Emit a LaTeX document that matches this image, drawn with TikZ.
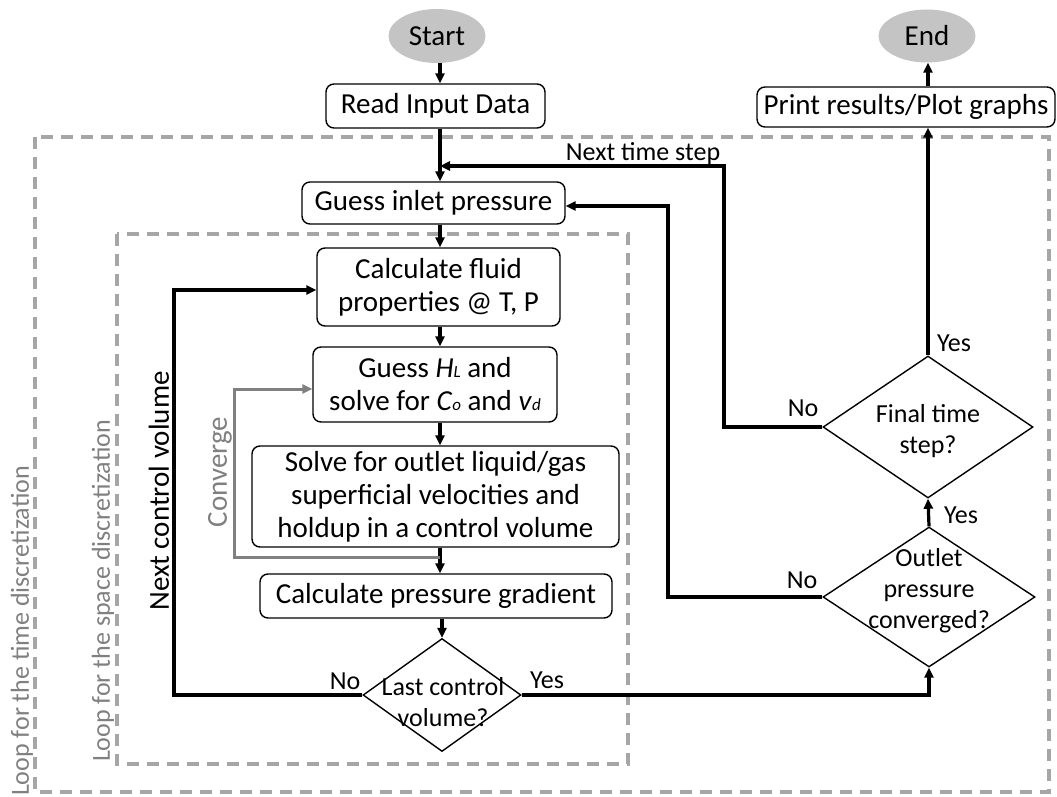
\documentclass[tikz,border=0pt]{standalone}
\usepackage{fontspec}
\setmainfont{Carlito}
\usetikzlibrary{arrows.meta,shapes.geometric}
\definecolor{termgray}{RGB}{196,196,196}
\definecolor{dashgray}{RGB}{166,166,166}
\definecolor{txtgray}{RGB}{128,128,128}
\begin{document}
\begin{tikzpicture}[x=1pt,y=-1pt,
  box/.style={draw=black,line width=1.4pt,rounded corners=8pt,inner sep=0pt,align=center,font=\fontsize{29}{33}\selectfont},
  term/.style={ellipse,fill=termgray,draw=none,inner sep=0pt,font=\fontsize{29}{33}\selectfont},
  dec/.style={diamond,draw=black,line width=1.4pt,inner sep=0pt},
  dectext/.style={align=center,inner sep=0pt,font=\fontsize{26}{31}\selectfont},
  conn/.style={line width=3.2pt,draw=black},
  arr/.style={conn,-{Triangle[length=10pt,width=9pt]}},
  garr/.style={line width=3pt,draw=txtgray,-{Triangle[length=10pt,width=9pt]}},
  lbl/.style={inner sep=0pt,font=\fontsize{26}{30}\selectfont},
  looptxt/.style={inner sep=0pt,rotate=90,text=txtgray,font=\fontsize{26}{30}\selectfont},
  loopbox/.style={draw=dashgray,line width=3.2pt,dash pattern=on 12pt off 8pt}
]
\useasboundingbox (0,0) rectangle (1057,797);

% loop frames
\draw[loopbox] (35,137) rectangle (1049,792);
\draw[loopbox] (117,234) rectangle (628,764);
\node[looptxt] (tloop) at (22,631) {Loop for the time discretization};
\node[looptxt] (sloop) at (103,591) {Loop for the space discretization};

% terminals
\node[term,minimum width=97,minimum height=54] (start) at (437,36) {Start};
\node[term,minimum width=97,minimum height=53] (end) at (927,36) {End};

% process boxes
\node[box,minimum width=219,minimum height=44] (read) at (435.5,106) {Read Input Data};
\node[box,minimum width=263,minimum height=42] (guess) at (433.5,203) {Guess inlet pressure};
\node[box,minimum width=243,minimum height=78] (calc) at (438.5,287) {Calculate fluid\\properties @ T, P};
\node[box,minimum width=244,minimum height=75] (hl) at (435,384.5) {Guess \textit{H}{\fontsize{17}{17}\selectfont\textit{L}} and\\solve for \textit{C}{\fontsize{17}{17}\selectfont\textit{o}} and \textit{v}{\fontsize{17}{17}\selectfont\textit{d}}};
\node[box,minimum width=367,minimum height=101] (solve) at (435.5,496.5) {Solve for outlet liquid/gas\\superficial velocities and\\holdup in a control volume};
\node[box,minimum width=352,minimum height=44] (grad) at (436,596) {Calculate pressure gradient};
\node[box,minimum width=298,minimum height=40] (print) at (906,107) {Print results/Plot graphs};

% decisions
\node[dec,minimum width=158,minimum height=113] (last) at (442,695) {};
\node[dectext] (lastt) at (443,702) {Last control\\volume?};
\node[dec,minimum width=210,minimum height=142] (final) at (928,427) {};
\node[dectext] (finalt) at (928,431) {Final time\\step?};
\node[dec,minimum width=212,minimum height=140] (outlet) at (929,597) {};
\node[dectext] (outlett) at (929,591) {Outlet\\pressure\\converged?};

% helper coordinates
\coordinate (col) at (440,0);
\coordinate (nts) at (724,166);
\coordinate (gin) at (668,206);
\coordinate (ncv) at (174,290);
\coordinate (cvg) at (234,389);
\coordinate (cvb) at (234,557);

% main column
\draw[arr] (start.south -| col) -- (read.north -| col);
\draw[arr] (read.south -| col) -- (guess.north -| col);
\draw[arr] (guess.south -| col) -- (calc.north -| col);
\draw[arr] (calc.south -| col) -- (hl.north -| col);
\draw[arr] (hl.south -| col) -- (solve.north -| col);
\draw[arr] (solve.south -| col) -- (grad.north -| col);
\draw[arr] (grad.south -| last) -- (last.north);

% converge loop
\draw[garr] (cvb -| col) -- (cvb) -- (cvg) -- (cvg -| hl.west);
\node[looptxt,font=\fontsize{29}{33}\selectfont] (cvtxt) at (220,472) {Converge};

% next control volume loop
\draw[arr] (last.west) -| (ncv) -- (ncv -| calc.west);
\node[inner sep=0pt,rotate=90,font=\fontsize{29}{33}\selectfont] (ncvtxt) at (159,491) {Next control volume};
\node[lbl] (lastno) at (345,681) {No};

% last -> outlet
\draw[arr] (last.east) -| (outlet.south);
\node[lbl] (lastyes) at (547,680) {Yes};

% outlet -> guess inlet
\draw[arr] (outlet.west) -| (gin) -- (gin -| guess.east);
\node[lbl] (outno) at (802,580) {No};

% outlet -> final
\draw[arr] (outlet.north) -- (final.south);
\node[lbl] (outyes) at (961,515) {Yes};

% final -> next time step
\draw[arr] (final.west) -| (nts) -- (nts -| col);
\node[lbl] (finno) at (803,408) {No};
\node[lbl] (ntstxt) at (643,154) {Next time step};

% final -> print -> end
\draw[arr] (final.north) -- (final.north |- print.south);
\node[lbl] (finyes) at (954,343) {Yes};
\draw[arr] (print.north -| final.north) -- (end.south -| final.north);
\end{tikzpicture}
\end{document}
